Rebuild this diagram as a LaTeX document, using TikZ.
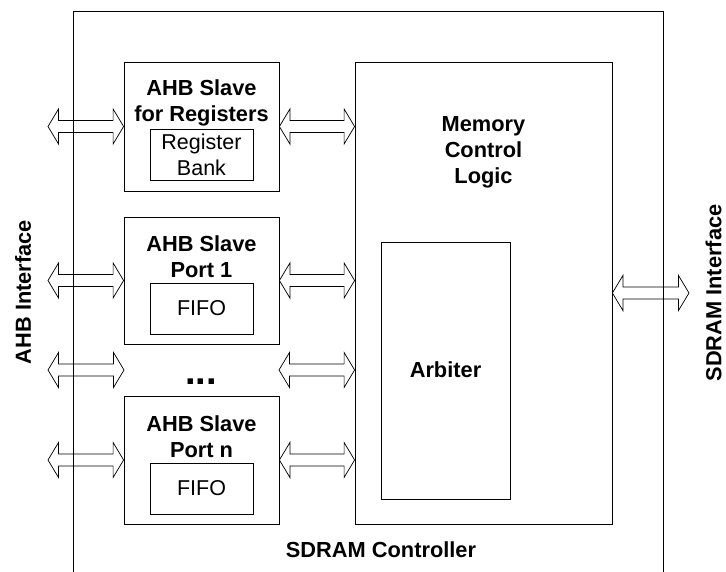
\documentclass[tikz,border=0pt]{standalone}
\usepackage{fontspec}
\setmainfont{Liberation Sans}
\usetikzlibrary{calc}
\newcommand\dblarr[2]{%
  \draw[dbl] (#1) -- ($(#1)+(10.5,-17.5)$) -- ($(#1)+(10.5,-6)$) -- ($(#2)+(-10.5,-6)$) -- ($(#2)+(-10.5,-17.5)$) -- (#2)
    -- ($(#2)+(-10.5,17.5)$) -- ($(#2)+(-10.5,6)$) -- ($(#1)+(10.5,6)$) -- ($(#1)+(10.5,17.5)$) -- cycle;}
\begin{document}
\begin{tikzpicture}[x=1pt,y=-1pt,
  box/.style={draw=black, line width=0.8pt, inner sep=0pt},
  bl/.style={font=\bfseries\fontsize{21.8}{26}\selectfont, align=center, inner sep=0pt},
  rl/.style={font=\fontsize{21.5}{26}\selectfont, align=center, inner sep=0pt},
  dbl/.style={draw=black, line width=0.7pt, line join=miter}]
\useasboundingbox (0,0) rectangle (726,572);
% outer controller box (open at the bottom)
\coordinate (obl) at (73,572);
\coordinate (otl) at (73,11);
\coordinate (otr) at (663,11);
\coordinate (obr) at (663,572);
\draw[line width=0.8pt] (obl) -- (otl) -- (otr) -- (obr);
% boxes
\node[box, minimum width=155, minimum height=129] (regs) at (201.5,126.5) {};
\node[box, minimum width=103, minimum height=51] (bank) at (201.5,154.5) {};
\node[box, minimum width=155, minimum height=127] (p1) at (201.5,280.5) {};
\node[box, minimum width=103, minimum height=51] (fifo1) at (201.5,308.5) {};
\node[box, minimum width=155, minimum height=128] (pn) at (201.5,460) {};
\node[box, minimum width=103, minimum height=51] (fifon) at (201.5,488.5) {};
\node[box, minimum width=257, minimum height=462] (mem) at (483.5,293) {};
\node[box, minimum width=129, minimum height=257] (arb) at (445.5,370.5) {};
% labels
\node[bl] (regsT) at (201.5,103) {AHB Slave\\for Registers};
\node[rl] (bankT) at (201.5,155) {Register\\Bank};
\node[bl] (p1T) at (201.5,256.5) {AHB Slave\\Port 1};
\node[rl] (fifo1T) at (fifo1) {FIFO};
\node[bl] (pnT) at (201.5,436.5) {AHB Slave\\Port n};
\node[rl] (fifonT) at (fifon) {FIFO};
\node[bl] (memT) at (483.5,152) {Memory\\Control\\Logic};
\node[bl] (arbT) at (445.5,370) {Arbiter};
\node[font=\bfseries\fontsize{38}{40}\selectfont, inner sep=0pt, anchor=base] (dots) at (201,384) {...};
\node[bl] (ctrlT) at (381,550) {SDRAM Controller};
\node[bl, rotate=90] (ahbI) at (23,292) {AHB Interface};
\node[bl, rotate=90] (sdI) at (713.5,293) {SDRAM Interface};
% arrow end points
\coordinate (a1) at (48,126.5);
\coordinate (a2) at (48,280.5);
\coordinate (a3) at (48,370);
\coordinate (a3r) at (124,370);
\coordinate (a4) at (48,460);
\coordinate (b3) at (279,370);
\coordinate (sdr) at (689,293);
% double arrows
\dblarr{a1}{regs.west}
\dblarr{a2}{p1.west}
\dblarr{a3}{a3r}
\dblarr{a4}{pn.west}
\dblarr{regs.east}{regs.east -| mem.west}
\dblarr{p1.east}{p1.east -| mem.west}
\dblarr{b3}{b3 -| mem.west}
\dblarr{pn.east}{pn.east -| mem.west}
\dblarr{mem.east}{sdr}
\end{tikzpicture}
\end{document}
